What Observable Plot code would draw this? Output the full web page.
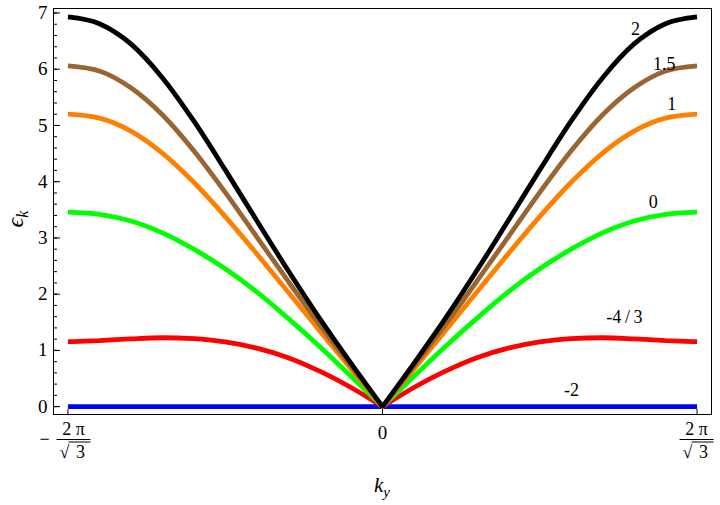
<!DOCTYPE html>
<html><head><meta charset="utf-8">
<script src="https://cdn.jsdelivr.net/npm/d3@7"></script>
<script src="https://cdn.jsdelivr.net/npm/@observablehq/plot@0.6"></script>
<style>body{margin:0;background:#fff;} #chart{width:720px;height:505px;overflow:hidden}
#chart svg text{font-family:'Liberation Serif','Times New Roman',serif !important;}</style>
</head><body><div id="chart"></div>
<script>
// k_y in units of 2π/√3
const kValues = [-1,-0.9,-0.8,-0.7,-0.6,-0.5,-0.4,-0.3,-0.2,-0.1,0,0.1,0.2,0.3,0.4,0.5,0.6,0.7,0.8,0.9,1];
const seriesNames = ["-2","-4/3","0","1","1.5","2"];
const seriesColors = ["#0000ff","#ff0000","#00ff00","#ff8000","#996633","#000000"];
const epsA_m2   = [0,0,0,0,0,0,0,0,0,0,0,0,0,0,0,0,0,0,0,0,0];
const epsA_m43  = [1.155,1.175,1.205,1.225,1.21,1.15,1.04,0.87,0.63,0.34,0,0.34,0.63,0.87,1.04,1.15,1.21,1.225,1.205,1.175,1.155];
const epsA_0    = [3.46,3.42,3.30,3.09,2.80,2.45,2.04,1.57,1.07,0.54,0,0.54,1.07,1.57,2.04,2.45,2.80,3.09,3.30,3.42,3.46];
const epsA_1    = [5.2,5.13,4.9,4.51,3.99,3.38,2.72,2.04,1.35,0.67,0,0.67,1.35,2.04,2.72,3.38,3.99,4.51,4.9,5.13,5.2];
const epsA_15   = [6.06,5.97,5.67,5.19,4.55,3.81,3.02,2.23,1.46,0.72,0,0.72,1.46,2.23,3.02,3.81,4.55,5.19,5.67,5.97,6.06];
const epsA_2    = [6.93,6.81,6.45,5.85,5.08,4.21,3.31,2.42,1.57,0.77,0,0.77,1.57,2.42,3.31,4.21,5.08,5.85,6.45,6.81,6.93];
const seriesValues = [epsA_m2, epsA_m43, epsA_0, epsA_1, epsA_15, epsA_2];
const labelText = ["-2","-4\u2009/\u20093","0","1","1.5","2"];
const labelK = [0.601,0.769,0.861,0.920,0.896,0.804];
const labelEps = [0.288,1.584,3.627,5.385,6.09,6.72];
const yMajor = [0,1,2,3,4,5,6,7];
const yMinor = d3.range(0, 7.01, 0.2);
const xTickValues = [-1, 0, 1];

const rows = [];
seriesNames.forEach((s, i) => kValues.forEach((k, j) => rows.push({k, eps: seriesValues[i][j], series: s})));
const labels = labelText.map((t, i) => ({t, k: labelK[i], eps: labelEps[i]}));

function cuspCurve(context) {
  let pts;
  const fwd = (mapMove) => ({
    moveTo: (x, y) => mapMove ? context.lineTo(x, y) : context.moveTo(x, y),
    lineTo: (x, y) => context.lineTo(x, y),
    bezierCurveTo: (a,b,c,d,e,f) => context.bezierCurveTo(a,b,c,d,e,f),
    closePath: () => {}
  });
  return {
    areaStart() {}, areaEnd() {},
    lineStart() { pts = []; },
    point(x, y) { pts.push([+x, +y]); },
    lineEnd() {
      const m = Math.floor(pts.length / 2);
      const a = d3.curveMonotoneX(fwd(false));
      a.lineStart(); for (const p of pts.slice(0, m + 1)) a.point(p[0], p[1]); a.lineEnd();
      const b = d3.curveMonotoneX(fwd(true));
      b.lineStart(); for (const p of pts.slice(m)) b.point(p[0], p[1]); b.lineEnd();
    }
  };
}

const W = 720, H = 505, ML = 53, MR = 9, MT = 8, MB = 91;
const FW = W - ML - MR, FH = H - MT - MB;
const serif = "'Liberation Serif', 'Times New Roman', serif";

const plot = Plot.plot({
  width: W, height: H, marginLeft: ML, marginRight: MR, marginTop: MT, marginBottom: MB,
  x: {domain: [-1.046, 1.046]},
  y: {domain: [-0.14, 7.08]},
  color: {domain: seriesNames, range: seriesColors},
  style: {fontFamily: serif, fontSize: "18px", background: "white", color: "black"},
  marks: [
    Plot.line(rows, {x: "k", y: "eps", z: "series", stroke: "series", strokeWidth: 4.8,
      strokeLinejoin: "miter", strokeLinecap: "butt", curve: cuspCurve}),
    Plot.frame({stroke: "black", strokeWidth: 1}),
    Plot.tickY(yMinor, {y: d => d, insetRight: FW - 4, stroke: "black"}),
    Plot.tickY(yMajor, {y: d => d, insetRight: FW - 7, stroke: "black"}),
    Plot.tickX(xTickValues, {x: d => d, insetTop: FH - 5, stroke: "black"}),
    Plot.axisY(yMajor, {tickSize: 0, tickPadding: 6, label: null, fontSize: 19, tickFormat: d => String(d)}),
    Plot.axisX([0], {tickSize: 0, tickPadding: 11, label: null, fontSize: 19, tickFormat: () => "0"}),
    Plot.text(labels, {x: "k", y: "eps", text: "t", fontSize: 18, fill: "black", textAnchor: "middle", lineAnchor: "middle"})
  ]
});
document.getElementById("chart").appendChild(plot);

// fraction tick labels ±2π/√3 and axis titles
const svg = d3.select(plot);
const xs = plot.scale("x");
const y0 = H - MB;
const g = svg.append("g").attr("font-family", serif).attr("font-size", 18).attr("fill", "black");
function fraction(cx) {
  g.append("text").attr("x", cx).attr("y", y0 + 21).attr("text-anchor", "middle").text("2 π");
  g.append("line").attr("x1", cx - 17).attr("x2", cx + 17).attr("y1", y0 + 25.5).attr("y2", y0 + 25.5).attr("stroke", "black").attr("stroke-width", 1);
  g.append("text").attr("x", cx - 9).attr("y", y0 + 44).attr("text-anchor", "middle").text("√");
  g.append("line").attr("x1", cx - 5).attr("x2", cx + 17).attr("y1", y0 + 28).attr("y2", y0 + 28).attr("stroke", "black").attr("stroke-width", 1);
  g.append("text").attr("x", cx + 7).attr("y", y0 + 44).attr("text-anchor", "middle").text("3");
}
const xl = xs.apply(-1), xr = xs.apply(1);
fraction(xl + 6);
g.append("text").attr("x", xl - 23).attr("y", y0 + 31).attr("text-anchor", "middle").text("−");
fraction(xr);

const xt = svg.append("text").attr("x", xs.apply(0)).attr("y", 492).attr("text-anchor", "middle")
  .attr("font-family", serif).attr("font-size", 21).attr("font-style", "italic").attr("fill", "black");
xt.append("tspan").text("k");
xt.append("tspan").attr("font-size", 15).attr("dy", 5).text("y");

const yt = svg.append("text").attr("transform", `translate(23,${(MT + y0) / 2 + 8}) rotate(-90)`).attr("text-anchor", "middle")
  .attr("font-family", serif).attr("font-size", 24).attr("font-style", "italic").attr("fill", "black");
yt.append("tspan").text("ϵ");
yt.append("tspan").attr("font-size", 16).attr("dy", 5).text("k");
</script></body></html>
